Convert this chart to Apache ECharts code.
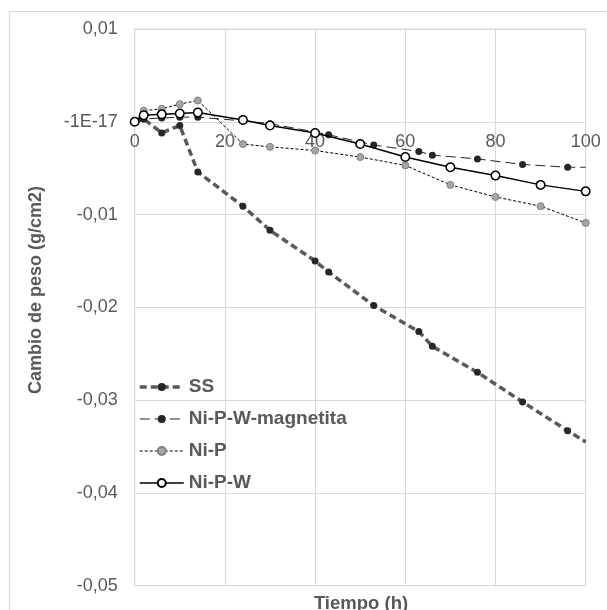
<!DOCTYPE html>
<html>
<head>
<meta charset="utf-8">
<script src="https://cdn.jsdelivr.net/npm/echarts@6/dist/echarts.min.js"></script>
<style>
  html, body { margin: 0; padding: 0; background: #fff; }
  #chart { width: 607px; height: 610px; }
</style>
</head>
<body>
<div id="chart"></div>
<script>
// tiempo (h) y cambio de peso (g/cm2)
const ssTime = [0, 2, 6, 10, 14, 24, 30, 40, 43, 53, 63, 66, 76, 86, 96, 100]
const ssWeight = [0, 0.0003, -0.0012, -0.0004, -0.0054, -0.0091, -0.0117, -0.0150, -0.0162, -0.0198, -0.0226, -0.0242, -0.0270, -0.0302, -0.0333, -0.0345]

const magTime = [0, 2, 6, 10, 14, 24, 30, 40, 43, 53, 63, 66, 76, 86, 96, 100]
const magWeight = [0, 0.0003, 0.0004, 0.0005, 0.0005, 0.0001, -0.0002, -0.0011, -0.0014, -0.0025, -0.0032, -0.0036, -0.0040, -0.0046, -0.0049, -0.0049]

const nipTime = [0, 2, 6, 10, 14, 24, 30, 40, 50, 60, 70, 80, 90, 100]
const nipWeight = [0, 0.0012, 0.0014, 0.0019, 0.0023, -0.0024, -0.0027, -0.0031, -0.0038, -0.0047, -0.0068, -0.0081, -0.0091, -0.0109]

const nipwTime = [0, 2, 6, 10, 14, 24, 30, 40, 50, 60, 70, 80, 90, 100]
const nipwWeight = [0, 0.0007, 0.0008, 0.0009, 0.001, 0.0002, -0.0004, -0.0012, -0.0024, -0.0038, -0.0049, -0.0058, -0.0068, -0.0075]

const seriesNames = ['SS', 'Ni-P-W-magnetita', 'Ni-P', 'Ni-P-W']

const font = '"Liberation Sans", Arial, sans-serif'
const textGrey = '#595959'
const gridGrey = '#d9d9d9'

const yMin = -0.05
const yMax = 0.01
const plotTop = 29
const plotBottom = 24.3
const plotHeight = 610 - plotTop - plotBottom
// x axis crosses the y axis at 0: move it up from the bottom edge
const xAxisOffset = -plotHeight * (0 - yMin) / (yMax - yMin)

const lineStyles = [
  { color: '#595959', width: 3.5, type: [7, 4] },
  { color: '#262626', width: 1, type: [10, 5] },
  { color: '#000', width: 1, type: [3, 2] },
  { color: '#000', width: 1.5, type: 'solid' }
]

// the last point of SS and magnetita has no marker in the original
function pairs(xs, ys, hideLast) {
  return xs.map((x, i) => {
    const item = { value: [x, ys[i]] }
    if (hideLast && i === xs.length - 1) item.symbol = 'none'
    return item
  })
}

const chart = echarts.init(document.getElementById('chart'), null, { renderer: 'canvas' })

chart.setOption({
  backgroundColor: '#fff',
  animation: false,
  grid: {
    left: 134.7, right: 21.3, top: plotTop, bottom: plotBottom, containLabel: false,
    show: true, borderColor: gridGrey, borderWidth: 1
  },
  graphic: [
    {
      type: 'rect',
      shape: { x: 9.5, y: 11.5, width: 800, height: 800 },
      style: { fill: 'none', stroke: gridGrey, lineWidth: 1 },
      z: -1
    },
    {
      type: 'text',
      x: 361,
      y: 604,
      style: { text: 'Tiempo (h)', font: 'bold 18.5px ' + font, fill: textGrey, textAlign: 'center', textVerticalAlign: 'middle' }
    },
    {
      type: 'text',
      rotation: Math.PI / 2,
      x: 36,
      y: 290,
      style: { text: 'Cambio de peso (g/cm2)', font: 'bold 18px ' + font, fill: textGrey, textAlign: 'center', textVerticalAlign: 'middle' }
    }
  ],
  legend: {
    left: 138,
    top: 377.5,
    padding: 0,
    orient: 'vertical',
    itemWidth: 44,
    itemHeight: 10,
    itemGap: 13,
    data: seriesNames.map((n, i) => ({ name: n, lineStyle: lineStyles[i] })),
    textStyle: { fontFamily: font, fontWeight: 'bold', fontSize: 19, color: textGrey }
  },
  xAxis: {
    type: 'value',
    min: 0,
    max: 100,
    interval: 20,
    position: 'bottom',
    offset: xAxisOffset,
    axisLine: { onZero: false, lineStyle: { color: gridGrey, width: 1 } },
    axisTick: { show: false },
    axisLabel: { fontFamily: font, fontSize: 18, color: textGrey, margin: 11 },
    splitLine: { show: true, lineStyle: { color: gridGrey, width: 1 } }
  },
  yAxis: {
    type: 'value',
    min: yMin,
    max: yMax,
    interval: 0.01,
    axisLine: { show: true, onZero: false, lineStyle: { color: gridGrey, width: 1 } },
    axisTick: { show: false },
    axisLabel: {
      fontFamily: font,
      fontSize: 18,
      color: textGrey,
      margin: 17,
      formatter: v => Math.abs(v) < 1e-9 ? '-1E-17' : v.toFixed(2).replace('.', ',')
    },
    splitLine: { show: true, lineStyle: { color: gridGrey, width: 1 } }
  },
  series: [
    {
      name: 'SS',
      type: 'line',
      data: pairs(ssTime, ssWeight, true),
      symbol: 'circle',
      symbolSize: 7,
      itemStyle: { color: '#262626', borderWidth: 0 },
      lineStyle: lineStyles[0],
      z: 2
    },
    {
      name: 'Ni-P-W-magnetita',
      type: 'line',
      data: pairs(magTime, magWeight, true),
      symbol: 'circle',
      symbolSize: 7,
      itemStyle: { color: '#262626', borderWidth: 0 },
      lineStyle: lineStyles[1],
      z: 3
    },
    {
      name: 'Ni-P',
      type: 'line',
      data: pairs(nipTime, nipWeight, false),
      symbol: 'circle',
      symbolSize: 7,
      itemStyle: { color: '#a6a6a6', borderColor: '#7f7f7f', borderWidth: 1 },
      lineStyle: lineStyles[2],
      z: 4
    },
    {
      name: 'Ni-P-W',
      type: 'line',
      data: pairs(nipwTime, nipwWeight, false),
      symbol: 'circle',
      symbolSize: 8.5,
      itemStyle: { color: '#fff', borderColor: '#000', borderWidth: 1.5 },
      lineStyle: lineStyles[3],
      z: 5
    }
  ]
})
</script>
</body>
</html>
